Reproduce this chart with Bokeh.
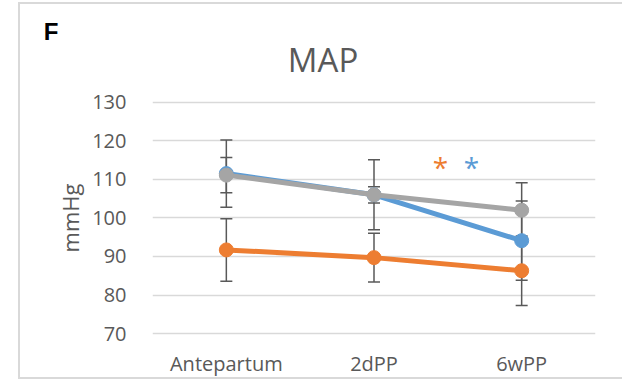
import numpy as np
from bokeh.plotting import figure
from bokeh.models import (Range1d, FixedTicker, Whisker, ColumnDataSource,
                          LinearAxis)
from bokeh.core.properties import value
from bokeh.embed import file_html
from bokeh.resources import INLINE

# Mean arterial pressure (mmHg): group means and SDs at three time points
categories = ["Antepartum", "2dPP", "6wPP"]
blue_mean = [111.5, 106.0, 94.1]
blue_sd = [8.7, 9.1, 10.3]
orange_mean = [91.7, 89.7, 86.3]
orange_sd = [8.1, 6.3, 9.0]
gray_mean = [111.1, 106.0, 102.0]
gray_sd = [4.6, 2.1, 7.1]
y_ticks = [70, 80, 90, 100, 110, 120, 130]

# significance markers between 2dPP and 6wPP
star_x = [1.45, 1.66]
star_y = [113.2, 113.2]
star_colors = ["#ED7D31", "#5B9BD5"]

BLUE = "#5B9BD5"
ORANGE = "#ED7D31"
GRAY = "#A5A5A5"
TEXT = "#595959"
FONT = "Open Sans"

x = np.arange(len(categories))

# the frame runs up to the top edge so the chart title can sit inside it
p = figure(width=622, height=379, output_backend="svg", toolbar_location=None,
           x_range=Range1d(-0.5, 2.5), y_range=Range1d(69.5, 156.4),
           min_border_left=152, min_border_right=27,
           min_border_top=0, min_border_bottom=44)
p.outline_line_color = None
p.background_fill_color = None
p.border_fill_color = None
# white panel with a light frame on the left, top and bottom edges
p.styles = {
    "background-color": "white",
    "background-image": ("linear-gradient(#D9D9D9, #D9D9D9), "
                         "linear-gradient(#D9D9D9, #D9D9D9), "
                         "linear-gradient(#D9D9D9, #D9D9D9)"),
    "background-size": "2px 376px, 610px 2px, 610px 2px",
    "background-position": "18px 2px, 18px 2px, 18px 377px",
    "background-repeat": "no-repeat",
}

p.xaxis.ticker = FixedTicker(ticks=list(x))
p.xaxis.major_label_overrides = {int(i): c for i, c in zip(x, categories)}
p.yaxis.ticker = FixedTicker(ticks=y_ticks)
for ax in (p.xaxis[0], p.yaxis[0]):
    ax.axis_line_color = None
    ax.major_tick_line_color = None
    ax.minor_tick_line_color = None
    ax.major_label_text_font = FONT
    ax.major_label_text_font_size = "20px"
    ax.major_label_text_color = TEXT
p.xaxis.major_label_standoff = 8
p.yaxis.major_label_standoff = 20

# unit label, centred on the 70-130 scale
unit_axis = LinearAxis(ticker=FixedTicker(ticks=[100]),
                       major_label_overrides={100: "mmHg"},
                       major_label_orientation="vertical",
                       axis_line_color=None, major_tick_line_color=None,
                       minor_tick_line_color=None, major_label_standoff=-2,
                       major_label_text_font=FONT,
                       major_label_text_font_size="22px",
                       major_label_text_color=TEXT)
p.add_layout(unit_axis, "left")

# panel letter, set in the outer left margin
letter_axis = LinearAxis(ticker=FixedTicker(ticks=[148.4]),
                         major_label_overrides={148.4: "F"},
                         axis_line_color=None, major_tick_line_color=None,
                         minor_tick_line_color=None, major_label_standoff=-12,
                         major_label_text_font="Liberation Sans",
                         major_label_text_font_size="24px",
                         major_label_text_font_style="bold",
                         major_label_text_color="black")
p.add_layout(letter_axis, "left")

p.xgrid.grid_line_color = None
p.ygrid.grid_line_color = "#D9D9D9"
p.ygrid.grid_line_width = 1.5

# error bars, drawn beneath the lines
for mean, sd in ((blue_mean, blue_sd), (orange_mean, orange_sd), (gray_mean, gray_sd)):
    m = np.array(mean)
    s = np.array(sd)
    src = ColumnDataSource(dict(x=x, lower=m - s, upper=m + s))
    w = Whisker(source=src, base="x", lower="lower", upper="upper",
                line_color="#595959", line_width=1.5)
    for head in (w.upper_head, w.lower_head):
        head.size = 12
        head.line_color = "#595959"
        head.line_width = 1.5
    p.add_layout(w)

for mean, color in ((blue_mean, BLUE), (orange_mean, ORANGE), (gray_mean, GRAY)):
    p.line(x, mean, line_color=color, line_width=5)
    p.scatter(x, mean, size=14, fill_color=color, line_color=color)

p.text(star_x, star_y, text=["*", "*"], text_color=star_colors,
       text_font=value(FONT), text_font_size="28px",
       text_align="center", text_baseline="middle")

# chart title
p.text([0.655], [141.1], text=["MAP"], text_color=TEXT,
       text_font=value(FONT), text_font_size="33px",
       text_align="center", text_baseline="alphabetic")

open("out.html", "w").write(file_html(p, INLINE))
